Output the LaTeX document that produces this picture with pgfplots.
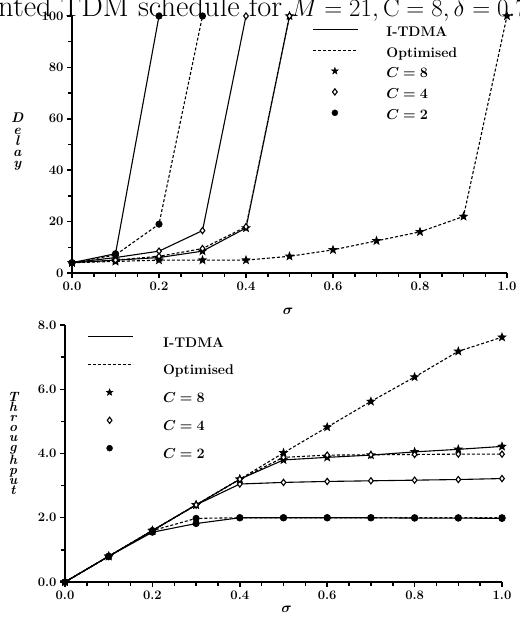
\documentclass[border=0pt]{standalone}
\usepackage{bm}
\usepackage{pgfplots}
\pgfplotsset{compat=1.18}

% filled five-pointed star
\pgfdeclareplotmark{fstar}{%
  \pgfpathmoveto{\pgfpointpolar{90}{\pgfplotmarksize}}%
  \pgfpathlineto{\pgfpointpolar{126}{0.42\pgfplotmarksize}}%
  \pgfpathlineto{\pgfpointpolar{162}{\pgfplotmarksize}}%
  \pgfpathlineto{\pgfpointpolar{198}{0.42\pgfplotmarksize}}%
  \pgfpathlineto{\pgfpointpolar{234}{\pgfplotmarksize}}%
  \pgfpathlineto{\pgfpointpolar{270}{0.42\pgfplotmarksize}}%
  \pgfpathlineto{\pgfpointpolar{306}{\pgfplotmarksize}}%
  \pgfpathlineto{\pgfpointpolar{342}{0.42\pgfplotmarksize}}%
  \pgfpathlineto{\pgfpointpolar{18}{\pgfplotmarksize}}%
  \pgfpathlineto{\pgfpointpolar{54}{0.42\pgfplotmarksize}}%
  \pgfpathclose\pgfusepathqfillstroke}

\pgfplotsset{
  panel/.style={
    scale only axis, clip=false,
    axis lines*=left,
    axis line style={line width=2pt},
    tick style={black, line width=1.5pt},
    tick align=outside,
    major tick length=5pt, minor tick length=4pt,
    xmin=0, xmax=1, xtick={0,0.2,0.4,0.6,0.8,1.0},
    minor x tick num=3,
    tick label style={font=\fontsize{13}{15}\selectfont\bfseries},
    /pgf/number format/assume math mode=true,
    xticklabel style={/pgf/number format/.cd, fixed, fixed zerofill, precision=1},
    legend cell align=left,
    legend image code/.code={\draw[mark repeat=2, mark phase=2, ##1]
      plot coordinates {(0pt,0pt) (22pt,0pt) (45pt,0pt)};},
    legend style={draw=none, fill=none, inner sep=0pt, row sep=0pt,
      font=\fontsize{14}{22}\selectfont\bfseries, anchor=north west},
  },
  sol/.style={black, line width=1.1pt, solid, mark options={solid}},
  das/.style={black, line width=1.1pt, dash pattern=on 3pt off 2pt, mark options={solid}},
  mstar/.style={mark=fstar, mark size=3.6pt},
  mdia/.style={mark=diamond*, mark size=3.1pt, mark options={solid, fill=white, line width=1.1pt}},
  mcirc/.style={mark=*, mark size=3pt},
}

\begin{document}
\begin{tikzpicture}
\node[anchor=base west, font=\fontsize{30.5}{36}\selectfont, inner sep=0pt] at (-2pt,603pt)
  {nted TDM schedule for $M=21, \mathrm{C}=8, \delta=0.7$};

% ---- Delay ----
\begin{axis}[panel,
  at={(72pt,347pt)}, anchor=south west,
  width=435pt, height=257pt,
  ymin=0, ymax=100, ytick={0,20,...,100}, minor y tick num=1,
  ylabel={D\\e\\l\\a\\y},
  ylabel style={rotate=-90, align=center, anchor=center,
    font=\fontsize{14}{11.3}\selectfont\bfseries\itshape,
    at={(axis description cs:-0.126,0.51)}},
  xlabel={$\bm{\sigma}$},
  xlabel style={anchor=center, font=\fontsize{14}{15}\selectfont,
    at={(axis description cs:0.497,-0.148)}},
  legend style={at={(axis description cs:0.552,0.99)}},
]
\addlegendimage{sol}
\addlegendentry{\strut\hspace{26pt}I-TDMA}
\addlegendimage{das}
\addlegendentry{\strut\hspace{26pt}Optimised}
\addlegendimage{only marks, black, mstar}
\addlegendentry{\strut\hspace{26pt}$\bm{C=8}$}
\addlegendimage{only marks, black, mdia}
\addlegendentry{\strut\hspace{26pt}$\bm{C=4}$}
\addlegendimage{only marks, black, mcirc}
\addlegendentry{\strut\hspace{26pt}$\bm{C=2}$}

\addplot[sol, mstar, forget plot] coordinates {(0,4)(0.1,5)(0.2,6)(0.3,8.5)(0.4,17.5)(0.5,100)};
\addplot[das, mstar, forget plot] coordinates {(0,4)(0.1,4.5)(0.2,5)(0.3,5)(0.4,5)(0.5,6.5)(0.6,9)(0.7,12.5)(0.8,16)(0.9,22)(1.0,100)};
\addplot[sol, mdia, forget plot] coordinates {(0,4)(0.1,6)(0.2,8.5)(0.3,16.5)(0.4,100)};
\addplot[das, mdia, forget plot] coordinates {(0,4)(0.1,5)(0.2,6.5)(0.3,9.5)(0.4,18)(0.5,100)};
\addplot[sol, mcirc, forget plot] coordinates {(0,4)(0.1,7.5)(0.2,100)};
\addplot[das, mcirc, forget plot] coordinates {(0,4)(0.1,7)(0.2,19)(0.3,100)};
\end{axis}

% ---- Throughput ----
\begin{axis}[panel,
  at={(65pt,38pt)}, anchor=south west,
  width=437pt, height=257pt,
  ymin=0, ymax=8, ytick={0,2,...,8}, minor y tick num=1,
  yticklabel style={/pgf/number format/.cd, fixed, fixed zerofill, precision=1},
  ylabel={T\\h\\r\\o\\u\\g\\h\\p\\u\\t},
  ylabel style={rotate=-90, align=center, anchor=center,
    font=\fontsize{13.5}{10}\selectfont\bfseries\itshape,
    at={(axis description cs:-0.119,0.54)}},
  xlabel={$\bm{\sigma}$},
  xlabel style={anchor=center, font=\fontsize{14}{15}\selectfont,
    at={(axis description cs:0.507,-0.105)}},
  legend style={at={(axis description cs:0.05,1.01)}, font=\fontsize{14}{32}\selectfont\bfseries},
]
\addlegendimage{sol}
\addlegendentry{\strut\hspace{28pt}I-TDMA}
\addlegendimage{das}
\addlegendentry{\strut\hspace{28pt}Optimised}
\addlegendimage{only marks, black, mstar}
\addlegendentry{\strut\hspace{28pt}$\bm{C=8}$}
\addlegendimage{only marks, black, mdia}
\addlegendentry{\strut\hspace{28pt}$\bm{C=4}$}
\addlegendimage{only marks, black, mcirc}
\addlegendentry{\strut\hspace{28pt}$\bm{C=2}$}

\addplot[sol, mstar, forget plot] coordinates {(0,0)(0.1,0.8)(0.2,1.6)(0.3,2.4)(0.4,3.2)(0.5,3.8)(0.6,3.88)(0.7,3.95)(0.8,4.05)(0.9,4.13)(1.0,4.22)};
\addplot[das, mstar, forget plot] coordinates {(0,0)(0.1,0.8)(0.2,1.6)(0.3,2.4)(0.4,3.2)(0.5,4.02)(0.6,4.82)(0.7,5.62)(0.8,6.38)(0.9,7.18)(1.0,7.62)};
\addplot[sol, mdia, forget plot] coordinates {(0,0)(0.1,0.8)(0.2,1.6)(0.3,2.4)(0.4,3.05)(0.5,3.1)(0.6,3.13)(0.7,3.15)(0.8,3.17)(0.9,3.19)(1.0,3.22)};
\addplot[das, mdia, forget plot] coordinates {(0,0)(0.1,0.8)(0.2,1.6)(0.3,2.4)(0.4,3.2)(0.5,3.88)(0.6,3.95)(0.7,3.96)(0.8,3.97)(0.9,3.98)(1.0,3.98)};
\addplot[sol, mcirc, forget plot] coordinates {(0,0)(0.1,0.8)(0.2,1.55)(0.3,1.82)(0.4,2.0)(0.5,2.0)(0.6,2.0)(0.7,2.0)(0.8,1.99)(0.9,1.99)(1.0,1.98)};
\addplot[das, mcirc, forget plot] coordinates {(0,0)(0.1,0.8)(0.2,1.6)(0.3,1.98)(0.4,2.0)(0.5,2.0)(0.6,2.0)(0.7,2.0)(0.8,2.0)(0.9,2.0)(1.0,2.0)};
\end{axis}

\pgfresetboundingbox
\path[use as bounding box] (0pt,0pt) rectangle (519pt,620pt);
\end{tikzpicture}
\end{document}
